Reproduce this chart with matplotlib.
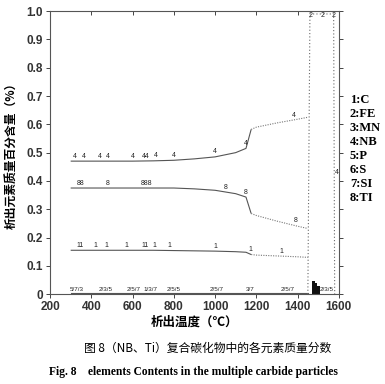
import matplotlib
matplotlib.use("Agg")
import matplotlib.pyplot as plt
import numpy as np

# ---- data ----
temps = [300, 400, 500, 600, 700, 800, 900, 1000, 1100, 1150, 1175, 1200, 1300, 1400, 1450]
nb = [0.470, 0.470, 0.470, 0.470, 0.471, 0.473, 0.478, 0.485, 0.500, 0.515, 0.582, 0.590, 0.605, 0.618, 0.625]
ti = [0.375, 0.375, 0.375, 0.375, 0.375, 0.375, 0.372, 0.367, 0.355, 0.343, 0.285, 0.278, 0.258, 0.240, 0.232]
c = [0.155, 0.155, 0.155, 0.155, 0.155, 0.154, 0.153, 0.152, 0.150, 0.148, 0.140, 0.138, 0.135, 0.132, 0.130]
minor = [0.004, 0.004, 0.004, 0.004, 0.004, 0.004, 0.004, 0.004, 0.004, 0.004, 0.004, 0.004, 0.004, 0.004, 0.004]
fe_t = [1450, 1460, 1575, 1580]
fe = [0.0, 0.99, 0.99, 0.0]
cluster_t = [1478, 1490, 1502]
cluster_v = [0.045, 0.04, 0.03]

# curve labels (temperature, text)
nb_lbl = [(320, "4"), (362, "4"), (440, "4"), (482, "4"), (600, "4"), (665, "44"),
          (712, "4"), (800, "4"), (1000, "4"), (1150, "4"), (1380, "4")]
ti_lbl = [(348, "88"), (480, "8"), (668, "888"), (1050, "8"), (1150, "8"), (1390, "8")]
c_lbl = [(348, "11"), (420, "1"), (475, "1"), (570, "1"), (660, "11"), (705, "1"),
         (780, "1"), (1000, "1"), (1170, "1"), (1320, "1")]
low_lbl = [(330, "5/7/3"), (470, "2/3/5"), (605, "2/5/7"), (685, "1/3/7"), (800, "2/5/5"),
           (1010, "2/5/7"), (1170, "3/7"), (1350, "2/5/7"), (1540, "2/3/5")]
fe_lbl_t = [1465, 1520, 1575]

legend_items = ["1:C", "2:FE", "3:MN", "4:NB", "5:P", "6:S", "7:SI", "8:TI"]
xticks = [200, 400, 600, 800, 1000, 1200, 1400, 1600]
xtick_labels = ["200", "400", "600", "800", "1000", "1200", "1400", "1600"]
yticks = [0, 0.1, 0.2, 0.3, 0.4, 0.5, 0.6, 0.7, 0.8, 0.9, 1.0]
ytick_labels = ["0", "0.1", "0.2", "0.3", "0.4", "0.5", "0.6", "0.7", "0.8", "0.9", "1.0"]

plt.rcParams['font.family'] = ['Liberation Sans', 'Noto Sans CJK SC', 'DejaVu Sans']

fig = plt.figure(figsize=(3.85, 3.84), dpi=100)
ax = fig.add_axes([0.130, 0.234, 0.750, 0.737])

lc = "#555555"
def split_plot(y, cut=11):
    ax.plot(temps[:cut], y[:cut], color=lc, lw=0.8, solid_capstyle="butt")
    ax.plot(temps[cut - 1:], y[cut - 1:], color="#777777", lw=0.8, ls=(0, (1, 1.2)))

split_plot(nb)
split_plot(ti)
split_plot(c)
ax.plot(temps, minor, color=lc, lw=0.8)
ax.plot(fe_t, fe, color="#666666", lw=0.8, ls=(0, (1, 2)))

def lab(items, series):
    for t, txt in items:
        v = np.interp(t, temps, series)
        ax.text(t, v + 0.005, txt, fontsize=5, ha="center", va="bottom", color="#222222")

lab(nb_lbl, nb)
lab(ti_lbl, ti)
lab(c_lbl, c)
for t, s in low_lbl:
    ax.text(t, 0.006, s, fontsize=4.5, ha="center", va="bottom", color="#222222")
for t in fe_lbl_t:
    ax.text(t, 0.985, "2", fontsize=5, ha="center", va="center", color="#222222")
ax.bar(cluster_t, cluster_v, width=12, color="#111111")
ax.text(1592, 0.43, "4", fontsize=5, ha="center", va="center", color="#222222")

ax.set_xlim(200, 1600)
ax.set_ylim(0, 1.0)
ax.set_xticks(xticks)
ax.set_xticklabels(xtick_labels, fontsize=8.5, fontweight="bold", color="#333333")
ax.set_yticks(yticks)
ax.set_yticklabels(ytick_labels, fontsize=8.5, fontweight="bold", color="#333333")
ax.tick_params(axis="both", length=3, width=0.7, color="#444444", pad=2)
ax.tick_params(axis="y", right=True)
for side in ["left", "bottom", "top", "right"]:
    ax.spines[side].set_linewidth(0.8)
    ax.spines[side].set_color("#555555")

top = ax.secondary_xaxis("top")
top.set_xticks(xticks)
top.set_xticklabels([])
top.tick_params(direction="in", length=3, width=0.7, color="#444444")
top.spines["top"].set_visible(False)

ax.set_xlabel("析出温度（℃）", fontsize=9, fontweight="bold",
              family=['Noto Sans CJK SC', 'DejaVu Sans'], labelpad=2)
ax.set_ylabel("析出元素质量百分含量（%）", fontsize=8.5, fontweight="bold",
              family=['Noto Sans CJK SC', 'DejaVu Sans'], labelpad=6)

for i, s in enumerate(legend_items):
    fig.text(350 / 385, 1 - (100 + i * 14) / 384, s, fontsize=9, fontweight="bold",
             family="Liberation Serif", va="center", ha="left")

fig.text(208 / 385, 1 - 348 / 384, "图 8（NB、Ti）复合碳化物中的各元素质量分数", fontsize=8.5,
         family=['Noto Sans CJK SC', 'DejaVu Sans'], ha="center", va="center")
fig.text(193 / 385, 1 - 372 / 384, "Fig. 8    elements Contents in the multiple carbide particles",
         fontsize=8.3, fontweight="bold", family="Liberation Serif", ha="center", va="center")

fig.savefig("out.png", dpi=100)
